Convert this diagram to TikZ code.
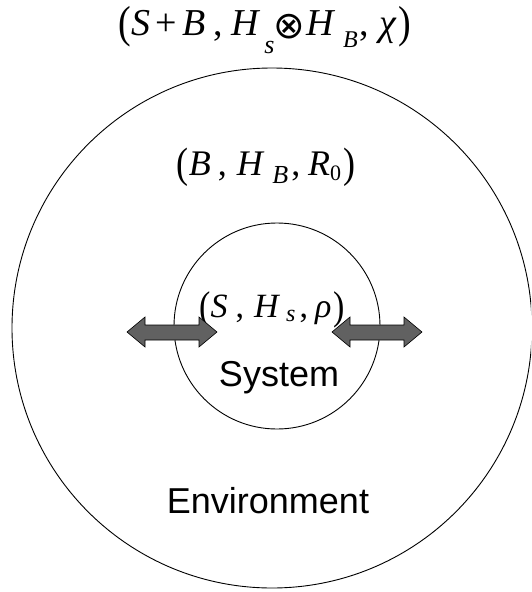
\documentclass[tikz,border=0pt]{standalone}
\usepackage{fontspec}
\setmainfont{Liberation Serif}
\setsansfont{Liberation Sans}
\newfontfamily\symbolfont{DejaVu Sans}
% lowered subscript: #1 size, #2 drop, #3 text
\newcommand\lsub[3]{\raisebox{-#2}{\fontsize{#1}{#1}\selectfont\itshape #3}}
\newcommand\lpar{\raisebox{-0.06em}{\scalebox{1}[1.18]{(}}}
\newcommand\rpar{\raisebox{-0.06em}{\scalebox{1}[1.18]{)}}}
\newcommand\tensor{{\symbolfont\fontsize{26}{26}\selectfont\raisebox{-3pt}{\scalebox{1.45}{⊗}}}}
\begin{document}
\begin{tikzpicture}[x=1pt,y=-1pt,
  ring/.style={draw=black,line width=0.9pt},
  mathlabel/.style={inner sep=0pt,anchor=base},
  wordlabel/.style={inner sep=0pt,anchor=base,font=\sffamily\fontsize{36}{40}\selectfont},
  arrowbody/.style={draw=black,line width=0.6pt,fill=black!62}]
\useasboundingbox (0,0) rectangle (531,592);
\clip (0,0) rectangle (531,592);
\node[ring,circle,minimum size=520pt,inner sep=0pt] (env) at (272,328) {};
\node[ring,circle,minimum size=206pt,inner sep=0pt] (sys) at (277,326) {};
\node[mathlabel,font=\fontsize{38}{42}\selectfont] (total) at (265,35)
  {\lpar\textit{S}\kern5pt+\kern6pt\textit{B}\kern8pt,\kern8pt\textit{H}\kern4pt\lsub{26}{18pt}{s}\kern-1pt\tensor\kern1pt\textit{H}\kern8pt\lsub{24}{12pt}{B}\kern2pt,\kern10pt\textit{χ}\kern2pt\rpar};
\node[mathlabel,font=\fontsize{36}{40}\selectfont] (bath) at (266,175)
  {\lpar\textit{B}\kern7pt,\kern10pt\textit{H}\kern8pt\lsub{26}{8pt}{B}\kern3pt,\kern8pt\textit{R}\lsub{22}{5pt}{\upshape 0}\kern2pt\rpar};
\node[mathlabel,font=\fontsize{34}{38}\selectfont] (sysl) at (272,317)
  {\lpar\textit{S}\kern8pt,\kern10pt\textit{H}\kern6pt\lsub{24}{4pt}{s}\kern4pt,\kern7pt\textit{ρ}\kern2pt\rpar};
\node[wordlabel] (system) at (279,386) {System};
\node[wordlabel] (envl) at (268,513) {Environment};
\coordinate (la) at (127,332);
\coordinate (ra) at (332,332);
\draw[arrowbody] (la) -- ++(18,-15) -- ++(0,8) -- ++(54,0) -- ++(0,-8) -- ++(18,15) -- ++(-18,15) -- ++(0,-7) -- ++(-54,0) -- ++(0,7) -- cycle;
\draw[arrowbody] (ra) -- ++(18,-15) -- ++(0,8) -- ++(54,0) -- ++(0,-8) -- ++(18,15) -- ++(-18,15) -- ++(0,-7) -- ++(-54,0) -- ++(0,7) -- cycle;
\end{tikzpicture}
\end{document}
